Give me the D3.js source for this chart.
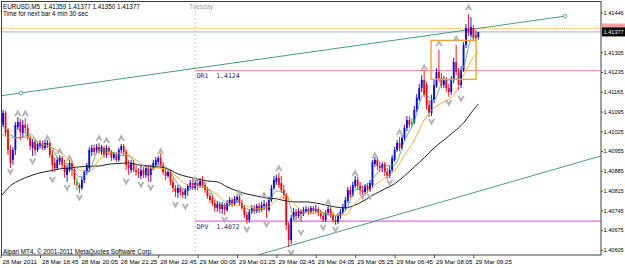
<!DOCTYPE html>
<html>
<head>
<meta charset="utf-8">
<script src="https://cdn.jsdelivr.net/npm/d3@7"></script>
<style>
html, body { margin: 0; padding: 0; background: #fff; }
svg { display: block; font-family: "Liberation Sans", Arial, sans-serif; }
</style>
</head>
<body>
<div id="chart"></div>
<script>
// EURUSD M5 - bars from 28 Mar 17:25 to 29 Mar 09:35
var opens = [1.41037,1.41048,1.41090,1.41030,1.40959,1.40924,1.40959,1.41040,1.41058,1.41019,1.41048,1.41037,1.41002,1.40966,1.40987,1.40959,1.40973,1.40984,1.40966,1.40977,
1.40984,1.40941,1.40913,1.40895,1.40917,1.40931,1.40906,1.40871,1.40888,1.40913,1.40888,1.40846,1.40835,1.40824,1.40853,1.40881,1.40895,1.40952,1.40966,1.40959,
1.40970,1.40952,1.40966,1.40941,1.40966,1.40952,1.40931,1.40941,1.40924,1.40959,1.40973,1.40952,1.40906,1.40888,1.40913,1.40888,1.40881,1.40867,1.40888,1.40871,
1.40895,1.40871,1.40895,1.40906,1.40917,1.40931,1.40906,1.40881,1.40867,1.40881,1.40846,1.40824,1.40807,1.40824,1.40810,1.40800,1.40814,1.40828,1.40842,1.40824,
1.40842,1.40832,1.40849,1.40835,1.40817,1.40796,1.40789,1.40771,1.40754,1.40768,1.40750,1.40764,1.40747,1.40768,1.40782,1.40768,1.40782,1.40793,1.40771,1.40754,
1.40729,1.40711,1.40740,1.40754,1.40743,1.40761,1.40747,1.40761,1.40768,1.40747,1.40782,1.40824,1.40846,1.40860,1.40842,1.40817,1.40800,1.40694,1.40640,1.40718,
1.40740,1.40725,1.40743,1.40732,1.40743,1.40750,1.40740,1.40754,1.40743,1.40750,1.40736,1.40725,1.40711,1.40736,1.40750,1.40729,1.40711,1.40704,1.40725,1.40740,
1.40754,1.40778,1.40817,1.40800,1.40832,1.40853,1.40832,1.40817,1.40810,1.40832,1.40817,1.40835,1.40909,1.40924,1.40902,1.40895,1.40909,1.40881,1.40867,1.40888,
1.40924,1.40959,1.40984,1.40966,1.41002,1.41037,1.41065,1.41051,1.41058,1.41101,1.41139,1.41178,1.41207,1.41189,1.41118,1.41090,1.41136,1.41186,1.41235,1.41214,
1.41189,1.41207,1.41178,1.41164,1.41207,1.41270,1.41235,1.41189,1.41242,1.41331,1.41391,1.41366,1.41391,1.41366,1.41359];
var highs = [1.41083,1.41101,1.41097,1.41037,1.40977,1.40970,1.41058,1.41076,1.41069,1.41065,1.41072,1.41051,1.41012,1.40998,1.40994,1.40987,1.40994,1.40991,1.40994,1.40994,
1.40991,1.40959,1.40931,1.40934,1.40941,1.40938,1.40924,1.40906,1.40924,1.40920,1.40899,1.40860,1.40842,1.40864,1.40888,1.40913,1.40970,1.40977,1.40977,1.40980,
1.40984,1.40977,1.40973,1.40977,1.40973,1.40959,1.40952,1.40948,1.40966,1.40980,1.40980,1.40959,1.40924,1.40924,1.40924,1.40902,1.40895,1.40902,1.40899,1.40906,
1.40906,1.40906,1.40924,1.40934,1.40938,1.40948,1.40917,1.40895,1.40888,1.40888,1.40860,1.40835,1.40835,1.40832,1.40821,1.40824,1.40839,1.40853,1.40856,1.40853,
1.40853,1.40860,1.40867,1.40846,1.40828,1.40807,1.40800,1.40782,1.40778,1.40775,1.40775,1.40771,1.40782,1.40793,1.40789,1.40796,1.40800,1.40800,1.40782,1.40764,
1.40740,1.40750,1.40764,1.40764,1.40768,1.40771,1.40775,1.40782,1.40775,1.40793,1.40835,1.40867,1.40871,1.40878,1.40867,1.40835,1.40807,1.40704,1.40729,1.40754,
1.40750,1.40754,1.40750,1.40757,1.40761,1.40757,1.40761,1.40761,1.40764,1.40757,1.40747,1.40736,1.40747,1.40764,1.40757,1.40740,1.40725,1.40736,1.40750,1.40768,
1.40793,1.40828,1.40832,1.40846,1.40867,1.40864,1.40846,1.40832,1.40839,1.40842,1.40853,1.40924,1.40934,1.40931,1.40917,1.40917,1.40917,1.40895,1.40902,1.40941,
1.40970,1.40994,1.41005,1.41012,1.41048,1.41079,1.41079,1.41072,1.41115,1.41157,1.41193,1.41224,1.41242,1.41200,1.41136,1.41154,1.41207,1.41249,1.41313,1.41232,
1.41221,1.41217,1.41193,1.41221,1.41285,1.41331,1.41249,1.41256,1.41341,1.41405,1.41440,1.41430,1.41401,1.41384,1.41377];
var lows = [1.41023,1.41040,1.41009,1.40941,1.40895,1.40906,1.40941,1.41030,1.40994,1.41005,1.41016,1.40994,1.40959,1.40938,1.40941,1.40952,1.40963,1.40959,1.40959,1.40966,
1.40931,1.40881,1.40881,1.40888,1.40906,1.40895,1.40860,1.40846,1.40881,1.40867,1.40835,1.40817,1.40807,1.40817,1.40842,1.40871,1.40881,1.40938,1.40941,1.40948,
1.40945,1.40941,1.40931,1.40931,1.40941,1.40920,1.40924,1.40917,1.40917,1.40948,1.40938,1.40888,1.40871,1.40878,1.40881,1.40867,1.40860,1.40856,1.40860,1.40860,
1.40846,1.40846,1.40888,1.40895,1.40906,1.40895,1.40871,1.40853,1.40860,1.40835,1.40810,1.40793,1.40789,1.40796,1.40789,1.40786,1.40796,1.40821,1.40817,1.40817,
1.40817,1.40824,1.40824,1.40807,1.40786,1.40771,1.40761,1.40740,1.40740,1.40736,1.40732,1.40729,1.40740,1.40761,1.40757,1.40761,1.40771,1.40761,1.40747,1.40718,
1.40697,1.40701,1.40732,1.40732,1.40736,1.40736,1.40740,1.40747,1.40718,1.40740,1.40775,1.40817,1.40835,1.40824,1.40807,1.40786,1.40676,1.40616,1.40626,1.40711,
1.40711,1.40718,1.40704,1.40725,1.40736,1.40729,1.40732,1.40732,1.40736,1.40725,1.40715,1.40704,1.40704,1.40729,1.40718,1.40701,1.40694,1.40697,1.40715,1.40732,
1.40747,1.40771,1.40789,1.40793,1.40824,1.40817,1.40803,1.40800,1.40800,1.40807,1.40810,1.40824,1.40899,1.40888,1.40881,1.40881,1.40867,1.40856,1.40860,1.40881,
1.40917,1.40952,1.40955,1.40959,1.40994,1.41026,1.41037,1.41040,1.41051,1.41093,1.41132,1.41164,1.41147,1.41101,1.41076,1.41079,1.41125,1.41178,1.41200,1.41178,
1.41178,1.41164,1.41147,1.41154,1.41196,1.41224,1.41171,1.41178,1.41235,1.41320,1.41363,1.41359,1.41348,1.41345,1.41350];
var closes = [1.41072,1.41090,1.41019,1.40959,1.40913,1.40959,1.41048,1.41058,1.41023,1.41048,1.41037,1.41002,1.40973,1.40987,1.40959,1.40980,1.40984,1.40966,1.40984,1.40984,
1.40941,1.40906,1.40895,1.40924,1.40931,1.40906,1.40881,1.40895,1.40913,1.40888,1.40853,1.40835,1.40824,1.40853,1.40881,1.40906,1.40959,1.40966,1.40952,1.40970,
1.40955,1.40970,1.40941,1.40966,1.40952,1.40931,1.40945,1.40924,1.40959,1.40973,1.40952,1.40906,1.40895,1.40913,1.40888,1.40881,1.40874,1.40888,1.40871,1.40895,
1.40867,1.40895,1.40913,1.40924,1.40931,1.40906,1.40881,1.40867,1.40881,1.40846,1.40824,1.40810,1.40824,1.40810,1.40800,1.40817,1.40832,1.40842,1.40824,1.40842,
1.40832,1.40849,1.40835,1.40817,1.40796,1.40782,1.40771,1.40754,1.40768,1.40750,1.40764,1.40747,1.40771,1.40782,1.40768,1.40786,1.40793,1.40771,1.40754,1.40729,
1.40711,1.40740,1.40754,1.40743,1.40761,1.40747,1.40764,1.40768,1.40747,1.40782,1.40824,1.40853,1.40860,1.40835,1.40817,1.40800,1.40694,1.40640,1.40718,1.40740,
1.40725,1.40743,1.40732,1.40747,1.40750,1.40740,1.40754,1.40743,1.40750,1.40736,1.40725,1.40711,1.40736,1.40750,1.40729,1.40711,1.40704,1.40725,1.40740,1.40757,
1.40782,1.40817,1.40800,1.40835,1.40853,1.40832,1.40817,1.40810,1.40832,1.40817,1.40842,1.40917,1.40924,1.40902,1.40895,1.40909,1.40881,1.40867,1.40888,1.40931,
1.40959,1.40984,1.40966,1.41002,1.41037,1.41065,1.41048,1.41058,1.41101,1.41143,1.41178,1.41207,1.41154,1.41118,1.41090,1.41136,1.41189,1.41235,1.41214,1.41189,
1.41207,1.41178,1.41164,1.41207,1.41270,1.41235,1.41189,1.41242,1.41331,1.41391,1.41373,1.41394,1.41355,1.41355,1.41377];
var greenBars = [31, 167];

// moving averages, read every 4 bars (last point = current bar)
var maBars = d3.range(0, 193, 4).concat([194]);
var maFast = [1.41065,1.41012,1.41002,1.41016,1.40977,1.40973,1.40920,1.40906,1.40864,1.40885,1.40959,1.40955,1.40941,1.40938,1.40892,1.40878,1.40906,1.40892,1.40839,1.40817,
1.40835,1.40824,1.40775,1.40761,1.40778,1.40750,1.40743,1.40757,1.40814,1.40800,1.40704,1.40740,1.40747,1.40732,1.40725,1.40743,1.40817,1.40828,1.40867,1.40902,
1.40906,1.40991,1.41062,1.41157,1.41136,1.41207,1.41207,1.41253,1.41370,1.41370];
var maMid = [1.41019,1.41002,1.41002,1.41005,1.40984,1.40970,1.40952,1.40924,1.40888,1.40881,1.40924,1.40952,1.40948,1.40941,1.40917,1.40895,1.40895,1.40888,1.40860,1.40835,
1.40832,1.40821,1.40800,1.40771,1.40764,1.40761,1.40750,1.40754,1.40782,1.40796,1.40761,1.40736,1.40736,1.40736,1.40729,1.40729,1.40771,1.40803,1.40835,1.40860,
1.40885,1.40941,1.40994,1.41065,1.41108,1.41129,1.41154,1.41224,1.41288,1.41306];
var maSlow = [1.40793,1.40832,1.40853,1.40867,1.40878,1.40885,1.40892,1.40895,1.40899,1.40901,1.40902,1.40909,1.40911,1.40913,1.40906,1.40902,1.40899,1.40892,1.40874,1.40864,
1.40856,1.40849,1.40846,1.40828,1.40814,1.40803,1.40796,1.40789,1.40786,1.40778,1.40775,1.40775,1.40771,1.40764,1.40757,1.40754,1.40764,1.40782,1.40803,1.40821,
1.40839,1.40867,1.40899,1.40931,1.40966,1.40994,1.41023,1.41055,1.41101,1.41122];

// fractals
var upBars = [7,10,19,24,28,40,43,49,65,79,97,107,113,133,144,152,162,172,178,185,190];
var upPrices = [1.41090,1.41090,1.41002,1.40955,1.40931,1.41002,1.40994,1.41002,1.40955,1.40853,1.40807,1.40800,1.40895,1.40775,1.40878,1.40941,1.41023,1.41253,1.41338,1.41355,1.41465];
var downBars = [4,13,21,27,32,51,57,61,71,75,91,100,108,118,122,131,136,147,150,158,175,182,187];
var downPrices = [1.40881,1.40917,1.40853,1.40824,1.40789,1.40846,1.40835,1.40824,1.40764,1.40757,1.40711,1.40676,1.40694,1.40594,1.40665,1.40683,1.40676,1.40793,1.40793,1.40842,1.41058,1.41125,1.41139];

// levels and objects
var askPrice = 1.41389, bidPrice = 1.41377;
var dr1 = 1.4124, dpv = 1.40707;
var upperLine = [[8.3, 1.41161], [229.2, 1.41433]];
var lowerLine = [[104.5, 1.40587], [243.8, 1.40938]];
var box = {from: 174.8, to: 193.1, top: 1.41347, bottom: 1.41209};

var priceTicks = [1.41446,1.41305,1.41235,1.41165,1.41095,1.41025,1.40955,1.40885,1.40815,1.40745,1.40675,1.40605];
var timeTickBars = [0,16,32,48,64,80,96,112,128,144,160,176,192];
var timeTickLabels = ["28 Mar 2011","28 Mar 18:45","28 Mar 20:05","28 Mar 21:25","28 Mar 22:45","29 Mar 00:05","29 Mar 01:25",
  "29 Mar 02:45","29 Mar 04:05","29 Mar 05:25","29 Mar 06:45","29 Mar 08:05","29 Mar 09:25"];

var W = 625, H = 268;
var L = 2, T = 2, R = 601, B = 255;

var svg = d3.select("#chart").append("svg").attr("width", W).attr("height", H);

var t0 = new Date(2011, 2, 28, 17, 25);
var x = d3.scaleTime()
  .domain([t0, new Date(+t0 + 192 * 3e5)])
  .range([0.6, 473.4]);
var xi = i => x(new Date(+t0 + i * 3e5));
var y = d3.scaleLinear().domain([1.40587, 1.41483]).range([B, T]);

svg.append("clipPath").attr("id", "plotclip")
  .append("rect").attr("x", L).attr("y", T).attr("width", R - L).attr("height", B - T);

var g = svg.append("g").attr("clip-path", "url(#plotclip)");

// day separator 29 Mar 00:00
g.append("line")
  .attr("x1", xi(79)).attr("x2", xi(79)).attr("y1", T).attr("y2", B)
  .attr("stroke", "#c8c8c8").attr("stroke-dasharray", "2,2").attr("stroke-width", 1);

// ask / bid
g.append("line").attr("x1", L).attr("x2", R).attr("y1", y(askPrice)).attr("y2", y(askPrice))
  .attr("stroke", "#f5b070").attr("stroke-dasharray", "1,1");
g.append("line").attr("x1", L).attr("x2", R).attr("y1", y(bidPrice)).attr("y2", y(bidPrice))
  .attr("stroke", "#9fb3cc");

// pivot levels from midnight
g.append("line").attr("x1", xi(79)).attr("x2", R).attr("y1", y(dr1)).attr("y2", y(dr1))
  .attr("stroke", "#f28b8b").attr("stroke-width", 1);
g.append("line").attr("x1", xi(79)).attr("x2", R).attr("y1", y(dpv)).attr("y2", y(dpv))
  .attr("stroke", "#dd44dd").attr("stroke-width", 1);

// trend lines
function extLine(pts, xa, xb) {
  var x1 = xi(pts[0][0]), y1 = y(pts[0][1]), x2 = xi(pts[1][0]), y2 = y(pts[1][1]);
  var k = (y2 - y1) / (x2 - x1);
  return [[xa, y1 + k * (xa - x1)], [xb, y1 + k * (xb - x1)]];
}
var up = extLine(upperLine, L, xi(upperLine[1][0]));
g.append("line").attr("x1", up[0][0]).attr("y1", up[0][1]).attr("x2", up[1][0]).attr("y2", up[1][1])
  .attr("stroke", "#4f9d78").attr("stroke-width", 1);
upperLine.forEach(p => {
  g.append("circle").attr("cx", xi(p[0])).attr("cy", y(p[1])).attr("r", 1.8)
    .attr("fill", "#fff").attr("stroke", "#4f9d78").attr("stroke-width", 0.8);
});
var lo = extLine(lowerLine, xi(lowerLine[0][0]), R);
g.append("line").attr("x1", lo[0][0]).attr("y1", lo[0][1]).attr("x2", lo[1][0]).attr("y2", lo[1][1])
  .attr("stroke", "#4f9d78").attr("stroke-width", 1);

// candles
var bars = d3.range(opens.length);
function barColor(i) {
  if (greenBars.indexOf(i) >= 0) return "#00c000";
  return closes[i] >= opens[i] ? "#0000ff" : "#ff0000";
}
g.selectAll("line.wick").data(bars).enter().append("line")
  .attr("class", "wick")
  .attr("x1", i => xi(i)).attr("x2", i => xi(i))
  .attr("y1", i => y(highs[i])).attr("y2", i => y(lows[i]))
  .attr("stroke", barColor).attr("stroke-width", 0.9);
g.selectAll("rect.body").data(bars).enter().append("rect")
  .attr("class", "body")
  .attr("x", i => xi(i) - 0.9).attr("width", 1.8)
  .attr("y", i => Math.min(y(opens[i]), y(closes[i])))
  .attr("height", i => Math.max(0.8, Math.abs(y(opens[i]) - y(closes[i]))))
  .attr("fill", barColor);

// moving averages
function maLine(vals) {
  return d3.line().curve(d3.curveMonotoneX)
    .x((d, k) => xi(maBars[k])).y(d => y(d))(vals);
}
g.append("path").attr("d", maLine(maSlow)).attr("fill", "none").attr("stroke", "#222").attr("stroke-width", 1);
g.append("path").attr("d", maLine(maMid)).attr("fill", "none").attr("stroke", "#f5a623").attr("stroke-width", 0.9);
g.append("path").attr("d", maLine(maFast)).attr("fill", "none").attr("stroke", "#3f9f70").attr("stroke-width", 0.8);

// box
g.append("rect")
  .attr("x", xi(box.from)).attr("y", y(box.top))
  .attr("width", xi(box.to) - xi(box.from)).attr("height", y(box.bottom) - y(box.top))
  .attr("fill", "none").attr("stroke", "#f5a030").attr("stroke-width", 1.4);

// fractal arrows
function arrow(cx, cy, dir) {
  var s = dir;
  return "M" + (cx - 3.3) + "," + (cy + 3 * s) + "L" + cx + "," + (cy - 3.3 * s) + "L" + (cx + 3.3) + "," + (cy + 3 * s) +
    "L" + (cx + 1.7) + "," + (cy + 3 * s) + "L" + cx + "," + (cy + 0.4 * s) + "L" + (cx - 1.7) + "," + (cy + 3 * s) + "Z";
}
g.selectAll("path.fup").data(upBars).enter().append("path")
  .attr("class", "fup")
  .attr("d", (b, k) => arrow(xi(b), y(upPrices[k]), 1))
  .attr("fill", "#b4b4b4").attr("stroke", "#9a9a9a").attr("stroke-width", 0.25);
g.selectAll("path.fdn").data(downBars).enter().append("path")
  .attr("class", "fdn")
  .attr("d", (b, k) => arrow(xi(b), y(downPrices[k]), -1))
  .attr("fill", "#b4b4b4").attr("stroke", "#9a9a9a").attr("stroke-width", 0.25);

// level labels
g.append("text").attr("x", xi(79) + 1.5).attr("y", y(dr1) + 7.5)
  .attr("font-family", "'DejaVu Sans Mono', monospace").attr("font-size", 6.5).attr("fill", "#2c2c7a")
  .attr("xml:space", "preserve").text("DR1  1.4124");
g.append("text").attr("x", xi(79) + 1.5).attr("y", y(dpv) + 7.5)
  .attr("font-family", "'DejaVu Sans Mono', monospace").attr("font-size", 6.5).attr("fill", "#2c2c7a")
  .attr("xml:space", "preserve").text("DPV  1.4072");

// header & footer texts
svg.append("text").attr("x", 3).attr("y", 9).attr("font-size", 6.3).attr("fill", "#000")
  .attr("xml:space", "preserve").text("EURUSD,M5  1.41359 1.41377 1.41350 1.41377");
svg.append("text").attr("x", 3).attr("y", 15.5).attr("font-size", 6.3).attr("fill", "#000")
  .text("Time for next bar 4 min 30 sec");
svg.append("text").attr("x", xi(79) - 6).attr("y", 9).attr("font-size", 6.3).attr("fill", "#a0a0a0")
  .text("Tuesday");
svg.append("text").attr("x", 3).attr("y", 253.5).attr("font-size", 6.3).attr("fill", "#000")
  .text("Alpari MT4, \u00a9 2001-2011 MetaQuotes Software Corp.");

// axes
var xAxis = d3.axisBottom(x)
  .tickValues(timeTickBars.map(i => new Date(+t0 + i * 3e5)))
  .tickFormat((d, k) => timeTickLabels[k])
  .tickSize(3).tickPadding(2);
var gx = svg.append("g").attr("transform", "translate(0," + B + ")").call(xAxis);
gx.select(".domain").remove();
gx.selectAll("line").attr("stroke", "#555");
gx.selectAll("text").attr("text-anchor", "start").attr("dx", 1.5)
  .attr("font-size", 6.2).attr("font-family", "'Liberation Sans', Arial, sans-serif").attr("fill", "#000");

var yAxis = d3.axisRight(y).tickValues(priceTicks).tickFormat(d3.format(".5f")).tickSize(2).tickPadding(0.5);
var gy = svg.append("g").attr("transform", "translate(" + R + ",0)").call(yAxis);
gy.select(".domain").remove();
gy.selectAll("line").attr("stroke", "#555");
gy.selectAll("text").attr("font-size", 5.6).attr("font-family", "'Liberation Sans', Arial, sans-serif").attr("fill", "#000");

// current price labels
svg.append("rect").attr("x", R + 1).attr("y", y(askPrice) - 5).attr("width", W - R).attr("height", 6)
  .attr("fill", "#f2a0a0");
svg.append("rect").attr("x", R + 1).attr("y", y(bidPrice) - 4.5).attr("width", W - R).attr("height", 9)
  .attr("fill", "#000");
svg.append("text").attr("x", R + 2.5).attr("y", y(bidPrice) + 2.1).attr("font-size", 5.6).attr("fill", "#fff")
  .text(d3.format(".5f")(bidPrice));

// frame
svg.append("rect").attr("x", L - 0.5).attr("y", T - 0.5).attr("width", R - L + 0.5).attr("height", B - T + 0.5)
  .attr("fill", "none").attr("stroke", "#404040").attr("stroke-width", 1);
</script>
</body>
</html>
